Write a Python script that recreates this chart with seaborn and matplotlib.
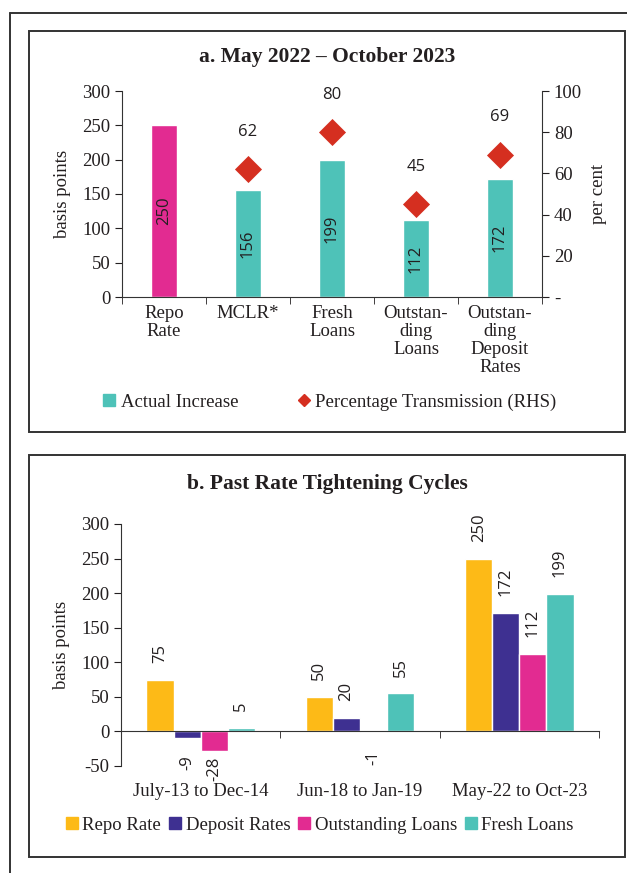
import numpy as np
import pandas as pd
import matplotlib
matplotlib.use("Agg")
import matplotlib.pyplot as plt
import seaborn as sns
from matplotlib.lines import Line2D
from matplotlib.patches import Rectangle

# panel a data
cats_a = ["Repo\nRate", "MCLR*", "Fresh\nLoans", "Outstan-\nding\nLoans", "Outstan-\nding\nDeposit\nRates"]
actual_increase = [250, 156, 199, 112, 172]
transmission = [np.nan, 62, 80, 45, 69]

# panel b data
periods = ["July-13 to Dec-14", "Jun-18 to Jan-19", "May-22 to Oct-23"]
series_b = ["Repo Rate", "Deposit Rates", "Outstanding Loans", "Fresh Loans"]
repo_rate = [75, 50, 250]
deposit_rates = [-9, 20, 172]
outstanding_loans = [-28, -1, 112]
fresh_loans = [5, 55, 199]

YELLOW = "#FDBA17"
PURPLE = "#3E3091"
MAGENTA = "#E22B91"
TEAL = "#4EC2B8"
RED = "#D52F20"
TXT = "#231F20"

sns.set_style("white")
plt.rcParams["font.family"] = ["Liberation Serif", "DejaVu Serif"]
plt.rcParams["text.color"] = TXT
plt.rcParams["axes.labelcolor"] = TXT
plt.rcParams["xtick.color"] = TXT
plt.rcParams["ytick.color"] = TXT

fig = plt.figure(figsize=(6.27, 8.73), dpi=100)
W, H = 627, 873

def fx(px):
    return px / W

def fy(py):
    return 1 - py / H

# frames
fig.add_artist(Line2D([fx(10), fx(627)], [fy(13), fy(13)], color="#333333", lw=1.4))
fig.add_artist(Line2D([fx(10), fx(10)], [fy(13), fy(873)], color="#333333", lw=1.4))
for top, bot in [(31, 432), (455, 857)]:
    fig.add_artist(Rectangle((fx(29), fy(bot)), fx(625) - fx(29), fy(top) - fy(bot),
                             fill=False, ec="#333333", lw=1.4))

FS = 13.5
LBL = dict(fontsize=12, family=["Open Sans", "DejaVu Sans"], color=TXT)

# ---------- panel a ----------
ax = fig.add_axes([fx(122), fy(297), fx(542) - fx(122), fy(91) - fy(297)])
df_a = pd.DataFrame({"cat": cats_a, "val": actual_increase})
sns.barplot(data=df_a, x="cat", y="val", hue="cat",
            palette=[MAGENTA, TEAL, TEAL, TEAL, TEAL], width=0.32,
            saturation=1, legend=False, ax=ax)
for c in ax.containers:
    ax.bar_label(c, label_type="center", rotation=90, **LBL)
ax.set_ylim(0, 300)
ax.set_xlim(-0.5, 4.5)
ax.set_yticks(range(0, 301, 50))
ax.set_xlabel("")
ax.set_ylabel("basis points", fontsize=FS, labelpad=8)
ax.set_xticks(range(5))
ax.set_xticklabels(cats_a, fontsize=FS, linespacing=1.08)
ax.set_xticks(np.arange(-0.5, 5, 1), minor=True)
ax.tick_params(axis="x", which="major", length=0, pad=6)
ax.tick_params(axis="x", which="minor", length=5, direction="out", bottom=True)
ax.tick_params(axis="y", length=5, direction="out", left=True, labelsize=FS)
for s in ["top", "right"]:
    ax.spines[s].set_visible(False)
for s in ["left", "bottom"]:
    ax.spines[s].set_color("#333333")

ax2 = ax.twinx()
df_t = pd.DataFrame({"x": range(5), "pct": transmission}).dropna()
sns.scatterplot(data=df_t, x="x", y="pct", marker="D", s=190, color=RED,
                edgecolor=RED, linewidth=0, ax=ax2, zorder=5)
for xi, yi in zip(df_t["x"], df_t["pct"]):
    ax2.annotate(f"{yi:g}", (xi, yi), xytext=(0, 27), textcoords="offset points",
                 ha="center", va="center", **LBL)
ax2.set_ylim(0, 100)
ax2.set_yticks(range(0, 101, 20))
ax2.set_yticklabels(["-", "20", "40", "60", "80", "100"])
ax2.set_ylabel("per cent", fontsize=FS, labelpad=6)
ax2.set_xlabel("")
ax2.tick_params(axis="y", length=5, direction="out", right=True, labelsize=FS)
ax2.spines["top"].set_visible(False)
ax2.spines["left"].set_visible(False)
ax2.spines["bottom"].set_visible(False)
ax2.spines["right"].set_color("#333333")
ax2.set_xlim(-0.5, 4.5)

fig.text(fx(327), fy(57), "a. May 2022 – October 2023", ha="center", va="center",
         fontsize=15.5, fontweight="bold")

handles_a = [Line2D([], [], marker="s", ls="", color=TEAL, markersize=8),
             Line2D([], [], marker="D", ls="", color=RED, markersize=6)]
fig.legend(handles_a, ["Actual Increase", "Percentage Transmission (RHS)"],
           loc="center", bbox_to_anchor=(fx(330), fy(402)), ncol=2, frameon=False,
           fontsize=FS, handlelength=0.6, handletextpad=0.3, columnspacing=3.2)

# ---------- panel b ----------
bx = fig.add_axes([fx(121), fy(766), fx(599) - fx(121), fy(524) - fy(766)])
df_b = pd.DataFrame({"period": periods * 4,
                     "series": np.repeat(series_b, 3),
                     "val": repo_rate + deposit_rates + outstanding_loans + fresh_loans})
sns.barplot(data=df_b, x="period", y="val", hue="series", hue_order=series_b,
            palette=[YELLOW, PURPLE, MAGENTA, TEAL], width=0.68, saturation=1,
            legend=False, ax=bx)
for c in bx.containers:
    vals = c.datavalues
    bx.bar_label(c, labels=[f"{v:g}" if v >= 0 else "" for v in vals],
                 padding=12, rotation=90, **LBL)
    # small negatives sit further from the bar, deep ones closer (keeps clear of x labels)
    bx.bar_label(c, labels=[f"{v:g}" if -20 < v < 0 else "" for v in vals],
                 padding=13, rotation=90, **LBL)
    bx.bar_label(c, labels=[f"{v:g}" if v <= -20 else "" for v in vals],
                 padding=4, rotation=90, **LBL)
bx.set_ylim(-50, 300)
bx.set_xlim(-0.5, 2.5)
bx.set_yticks(range(-50, 301, 50))
bx.set_yticklabels([str(v) for v in range(-50, 301, 50)])
bx.set_xlabel("")
bx.set_ylabel("basis points", fontsize=FS, labelpad=8)
bx.spines["bottom"].set_position(("data", 0))
bx.set_xticks(range(3))
bx.set_xticklabels(periods, fontsize=FS)
bx.set_xticks(np.arange(-0.5, 3, 1), minor=True)
bx.tick_params(axis="x", which="major", length=0, pad=37)
bx.tick_params(axis="x", which="minor", length=5, direction="out", bottom=True)
bx.tick_params(axis="y", length=5, direction="out", left=True, labelsize=FS)
for s in ["top", "right"]:
    bx.spines[s].set_visible(False)
for s in ["left", "bottom"]:
    bx.spines[s].set_color("#333333")

fig.text(fx(327), fy(484), "b. Past Rate Tightening Cycles", ha="center", va="center",
         fontsize=15.5, fontweight="bold")

handles_b = [Line2D([], [], marker="s", ls="", color=col, markersize=8)
             for col in [YELLOW, PURPLE, MAGENTA, TEAL]]
fig.legend(handles_b, series_b, loc="center", bbox_to_anchor=(fx(320), fy(825)),
           ncol=4, frameon=False, fontsize=FS, handlelength=0.6, handletextpad=0.25,
           columnspacing=0.45)

fig.savefig("out.png", dpi=100)
